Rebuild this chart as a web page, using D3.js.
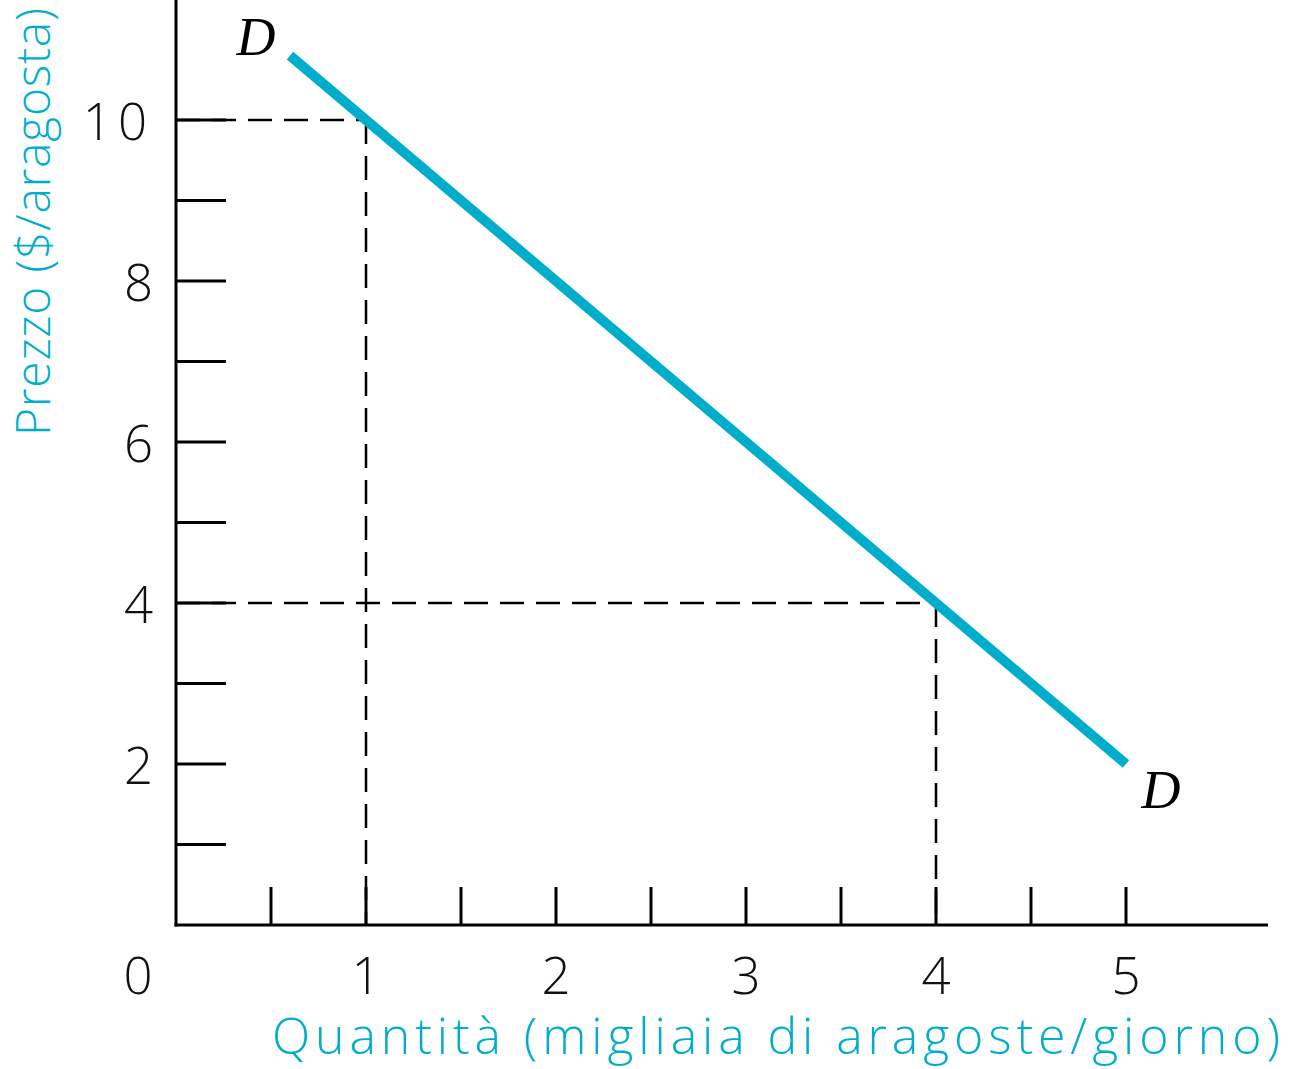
<!DOCTYPE html>
<html><head><meta charset="utf-8">
<script src="https://cdn.jsdelivr.net/npm/d3@7"></script>
<style>body{margin:0;background:#fff}</style>
</head><body>
<svg id="c" width="1289" height="1069"></svg>
<script>
const xTickValues = [0.5,1,1.5,2,2.5,3,3.5,4,4.5,5];
const xTickLabels = [0,1,2,3,4,5];
const yTickValues = [1,2,3,4,5,6,7,8,9,10];
const yTickLabels = [2,4,6,8,10];
const demandQ = [0.6, 5];
const demandP = [10.8, 2];
const guideQ = [1, 4];
const guideP = [10, 4];
const xTitle = "Quantità (migliaia di aragoste/giorno)";
const yTitle = "Prezzo ($/aragosta)";

const cyan = "#00AECB";
const svg = d3.select("#c");
const x = d3.scaleLinear().domain([0,5]).range([176,1126]);
const y = d3.scaleLinear().domain([0,10]).range([925,120]);
const font = "'Open Sans', Lato, sans-serif";

// axes
svg.append("line").attr("x1",176).attr("x2",176).attr("y1",0).attr("y2",926.5).attr("stroke","#000").attr("stroke-width",3);
svg.append("line").attr("x1",174.5).attr("x2",1268).attr("y1",925).attr("y2",925).attr("stroke","#000").attr("stroke-width",3);

// ticks
svg.selectAll(".xt").data(xTickValues).join("line")
  .attr("x1",d=>x(d)).attr("x2",d=>x(d)).attr("y1",925).attr("y2",887)
  .attr("stroke","#000").attr("stroke-width",3);
svg.selectAll(".yt").data(yTickValues).join("line")
  .attr("x1",176).attr("x2",226).attr("y1",d=>y(d)).attr("y2",d=>y(d))
  .attr("stroke","#000").attr("stroke-width",3);

// tick labels
svg.selectAll(".xl").data(xTickLabels).join("text")
  .attr("x",d=>d===0?138:x(d)).attr("y",994).attr("text-anchor","middle")
  .attr("font-family",font).attr("font-weight",300).attr("font-size",51).attr("fill","#111").text(d=>d);
svg.selectAll(".yl").data(yTickLabels).join("text")
  .attr("x",153).attr("y",d=>y(d)).attr("text-anchor","end").attr("dominant-baseline","central")
  .attr("font-family",font).attr("font-weight",300).attr("font-size",51).attr("letter-spacing",d=>d>=10?6:0).attr("fill","#111").text(d=>d);

// guide dashed lines
guideQ.forEach((q,i)=>{
  const p = guideP[i];
  svg.append("line").attr("x1",x(0)).attr("x2",x(q)).attr("y1",y(p)).attr("y2",y(p))
    .attr("stroke","#000").attr("stroke-width",2.5).attr("stroke-dasharray","24,12");
  svg.append("line").attr("x1",x(q)).attr("x2",x(q)).attr("y1",y(p)).attr("y2",y(0))
    .attr("stroke","#000").attr("stroke-width",2.5).attr("stroke-dasharray","24,12");
});

// demand line
svg.append("path").datum(demandQ.map((q,i)=>[q,demandP[i]]))
  .attr("d", d3.line().x(d=>x(d[0])).y(d=>y(d[1])))
  .attr("stroke",cyan).attr("stroke-width",10).attr("fill","none");

// D labels
svg.append("text").attr("x",256).attr("y",55).attr("text-anchor","middle")
  .attr("font-family","'Liberation Serif', serif").attr("font-style","italic").attr("font-size",54).attr("fill","#000").text("D");
svg.append("text").attr("x",1161).attr("y",808).attr("text-anchor","middle")
  .attr("font-family","'Liberation Serif', serif").attr("font-style","italic").attr("font-size",54).attr("fill","#000").text("D");

// titles
svg.append("text").attr("x",272).attr("y",1054).attr("text-anchor","start")
  .attr("textLength",1008).attr("lengthAdjust","spacing")
  .attr("font-family",font).attr("font-weight",300).attr("font-size",50).attr("fill",cyan).text(xTitle);
svg.append("text").attr("transform","translate(50,436) rotate(-90)").attr("text-anchor","start")
  .attr("textLength",428).attr("lengthAdjust","spacing")
  .attr("font-family",font).attr("font-weight",300).attr("font-size",48).attr("fill",cyan).text(yTitle);
</script>
</body></html>
